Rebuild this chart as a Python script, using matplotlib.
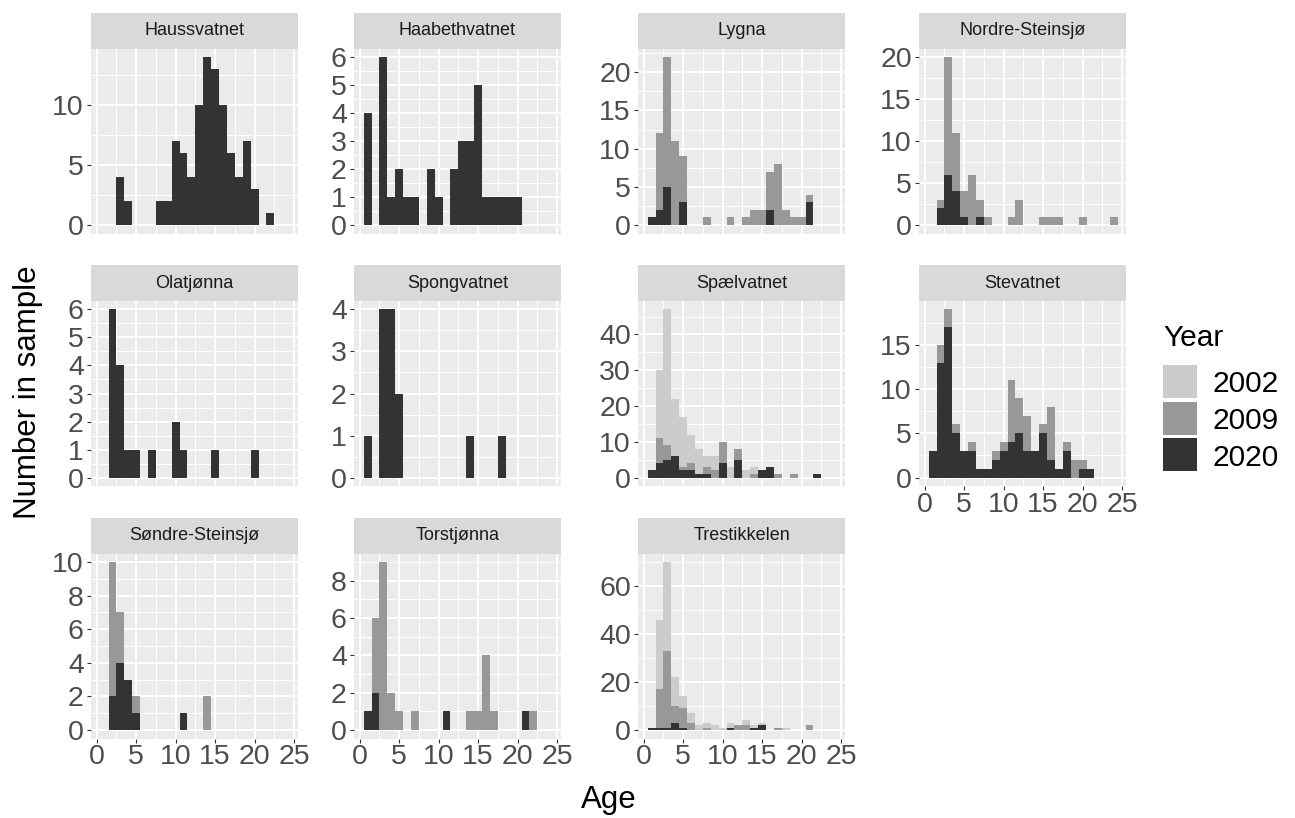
import numpy as np
import matplotlib
matplotlib.use("Agg")
import matplotlib.pyplot as plt
from matplotlib.patches import Rectangle

plt.rcParams['font.family'] = ['Liberation Sans', 'DejaVu Sans']

# ---------------- data ----------------
ages = np.arange(1, 25)
years = ['2002', '2009', '2020']
year_colors = {'2002': '#CCCCCC', '2009': '#989898', '2020': '#333333'}

lakes = ['Haussvatnet', 'Haabethvatnet', 'Lygna', 'Nordre-Steinsjø',
         'Olatjønna', 'Spongvatnet', 'Spælvatnet', 'Stevatnet',
         'Søndre-Steinsjø', 'Torstjønna', 'Trestikkelen']

# counts per age (age: count)
n2020 = {
    'Haussvatnet': {3: 4, 4: 2, 8: 2, 9: 2, 10: 7, 11: 6, 12: 4, 13: 10, 14: 14,
                    15: 13, 16: 10, 17: 6, 18: 4, 19: 7, 20: 3, 22: 1},
    'Haabethvatnet': {1: 4, 3: 6, 4: 1, 5: 2, 6: 1, 7: 1, 9: 2, 10: 1, 12: 2, 13: 3,
                      14: 3, 15: 5, 16: 1, 17: 1, 18: 1, 19: 1, 20: 1},
    'Lygna': {1: 1, 2: 2, 3: 5, 5: 3, 16: 2, 21: 3},
    'Nordre-Steinsjø': {2: 2, 3: 6, 4: 4, 5: 1, 7: 1},
    'Olatjønna': {2: 6, 3: 4, 4: 1, 5: 1, 7: 1, 10: 2, 11: 1, 15: 1, 20: 1},
    'Spongvatnet': {1: 1, 3: 4, 4: 4, 5: 2, 14: 1, 18: 1},
    'Spælvatnet': {1: 2, 2: 4, 3: 5, 4: 6, 5: 2, 6: 2, 7: 1, 8: 1, 10: 4, 12: 5,
                   15: 2, 16: 3, 22: 1},
    'Stevatnet': {1: 3, 2: 13, 3: 17, 4: 5, 5: 3, 6: 3, 7: 1, 8: 1, 9: 2, 10: 3,
                  11: 4, 12: 5, 13: 3, 14: 3, 15: 5, 16: 2, 17: 1, 18: 3, 20: 1, 21: 1},
    'Søndre-Steinsjø': {2: 2, 3: 4, 4: 3, 5: 1, 11: 1},
    'Torstjønna': {1: 1, 2: 2, 11: 1, 21: 1},
    'Trestikkelen': {1: 1, 2: 1, 3: 1, 4: 3, 5: 1, 11: 1, 14: 1, 15: 2},
}
n2009 = {
    'Lygna': {2: 10, 3: 17, 4: 11, 5: 6, 8: 1, 11: 1, 13: 1, 14: 2, 15: 2, 16: 5,
              17: 8, 18: 2, 19: 1, 20: 1, 21: 1},
    'Nordre-Steinsjø': {2: 1, 3: 14, 4: 7, 5: 3, 6: 6, 7: 2, 8: 1, 11: 1, 12: 3,
                        15: 1, 16: 1, 17: 1, 20: 1, 24: 1},
    'Spælvatnet': {2: 7, 3: 4, 5: 1, 6: 2, 8: 2, 9: 2, 10: 6, 12: 3, 14: 1, 17: 1, 19: 1},
    'Stevatnet': {2: 2, 3: 2, 4: 1, 6: 1, 9: 1, 10: 1, 11: 7, 12: 4, 13: 4, 15: 1,
                  16: 6, 18: 1, 19: 2, 20: 1},
    'Søndre-Steinsjø': {2: 8, 3: 3, 5: 1, 14: 2},
    'Torstjønna': {2: 4, 3: 9, 4: 2, 5: 1, 7: 1, 14: 1, 15: 1, 16: 4, 17: 1, 22: 1},
    'Trestikkelen': {2: 16, 3: 32, 4: 7, 5: 8, 6: 3, 8: 1, 12: 2, 13: 2, 17: 1, 21: 2},
}
n2002 = {
    'Spælvatnet': {2: 19, 3: 38, 4: 16, 5: 14, 6: 8, 7: 7, 8: 3, 9: 4, 11: 3, 13: 2, 14: 2},
    'Trestikkelen': {2: 29, 3: 37, 4: 12, 5: 5, 6: 4, 7: 2, 8: 2, 9: 2, 10: 1, 11: 2,
                     13: 2, 14: 1, 15: 1, 18: 1},
}
counts_by_year = {'2002': n2002, '2009': n2009, '2020': n2020}

# y-axis break step for each facet
y_steps = {'Haussvatnet': 5, 'Haabethvatnet': 1, 'Lygna': 5, 'Nordre-Steinsjø': 5,
           'Olatjønna': 1, 'Spongvatnet': 1, 'Spælvatnet': 10, 'Stevatnet': 5,
           'Søndre-Steinsjø': 2, 'Torstjønna': 2, 'Trestikkelen': 20}
x_breaks = [0, 5, 10, 15, 20, 25]

# ---------------- layout ----------------
W, H = 1295, 818
fig = plt.figure(figsize=(W / 100, H / 100), dpi=100)

col_left = [91, 354, 638, 919]
panel_w = 207
strip_top = [12.5, 265, 517.5]
strip_h = 36
panel_h = 185


def px_axes(x, y, w, h):
    return fig.add_axes([x / W, 1 - (y + h) / H, w / W, h / H])


def series(lake, year):
    d = counts_by_year[year].get(lake, {})
    return np.array([d.get(a, 0) for a in ages], dtype=float)


tick_color = '#333333'
label_color = '#4D4D4D'
for i, lake in enumerate(lakes):
    r, c = divmod(i, 4)
    # strip
    sa = px_axes(col_left[c], strip_top[r], panel_w, strip_h)
    sa.set_facecolor('#D9D9D9')
    sa.set_xticks([]); sa.set_yticks([])
    for s in sa.spines.values():
        s.set_visible(False)
    sa.text(0.5, 0.5, lake, ha='center', va='center', fontsize=13,
            color='#1A1A1A', transform=sa.transAxes)

    ax = px_axes(col_left[c], strip_top[r] + strip_h, panel_w, panel_h)
    ax.set_facecolor('#EBEBEB')
    for s in ax.spines.values():
        s.set_visible(False)
    ax.set_axisbelow(True)

    bottom = np.zeros(len(ages))
    for yr in ['2020', '2009', '2002']:
        v = series(lake, yr)
        ax.bar(ages, v, width=1.0, bottom=bottom, color=year_colors[yr],
               linewidth=0, align='center')
        bottom += v
    ymax = bottom.max()
    lo, hi = -0.05 * ymax, 1.05 * ymax
    ax.set_ylim(lo, hi)
    ax.set_xlim(-0.72, 25.5)

    step = y_steps[lake]
    majors = np.arange(0, hi + 1e-9, step)
    minors = [m for m in np.arange(-step / 2, hi + step, step) if lo <= m <= hi]
    ax.set_yticks(majors)
    ax.set_yticks(minors, minor=True)
    ax.set_yticklabels([f'{int(m)}' for m in majors])
    ax.set_xticks(x_breaks)
    ax.set_xticks([b + 2.5 for b in x_breaks[:-1]], minor=True)

    ax.grid(which='major', color='white', linewidth=1.4)
    ax.grid(which='minor', color='white', linewidth=0.7)

    ax.tick_params(axis='y', which='major', length=3.2, width=0.8, color=tick_color,
                   labelsize=20.5, labelcolor=label_color, pad=2)
    ax.tick_params(axis='both', which='minor', length=0)

    is_bottom = (i + 4 >= len(lakes))
    if is_bottom:
        ax.tick_params(axis='x', which='major', length=3.2, width=0.8, color=tick_color,
                       labelsize=20.5, labelcolor=label_color, pad=1)
        ax.set_xticklabels([str(b) for b in x_breaks])
    else:
        ax.tick_params(axis='x', which='major', length=0, labelbottom=False)

# axis titles
fig.text(608.5 / W, 1 - 808 / H, 'Age', ha='center', va='baseline', fontsize=22.5,
         color='black')
fig.text(28 / W, 1 - 392 / H, 'Number in sample', ha='center', va='center',
         rotation=90, fontsize=22.5, color='black')

# legend
fig.text(1163 / W, 1 - 346 / H, 'Year', ha='left', va='baseline', fontsize=21.5,
         color='black')
key_tops = [365, 401.5, 438]
for yr, kt in zip(years, key_tops):
    fig.add_artist(Rectangle((1163 / W, 1 - (kt + 33) / H), 34 / W, 33 / H,
                             transform=fig.transFigure, facecolor=year_colors[yr],
                             edgecolor='none'))
    fig.text(1213 / W, 1 - (kt + 16.5) / H, yr, ha='left', va='center_baseline',
             fontsize=21.5, color='black')

fig.savefig('out.png', dpi=100, facecolor='white')
